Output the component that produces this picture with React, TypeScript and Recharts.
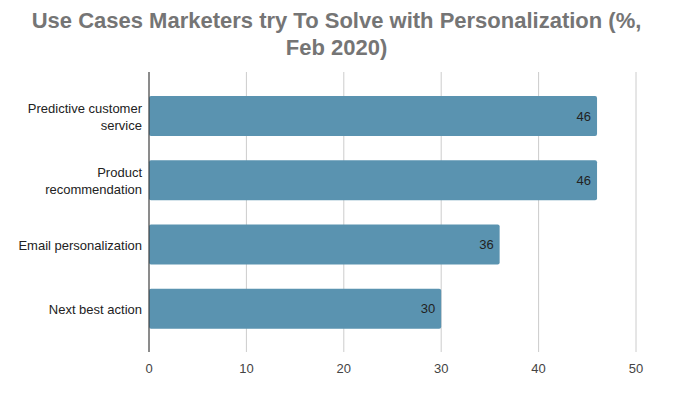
import { BarChart, Bar, XAxis, YAxis, CartesianGrid, LabelList } from 'recharts';

const categories = [
  'Predictive customer service',
  'Product recommendation',
  'Email personalization',
  'Next best action',
];
// how each category label breaks onto lines, as in the source chart
const tickLines = [
  ['Predictive customer', 'service'],
  ['Product', 'recommendation'],
  ['Email personalization'],
  ['Next best action'],
];
const shares = [46, 46, 36, 30];
const xTicks = [0, 10, 20, 30, 40, 50];

const data = categories.map((name, i) => ({ name, value: shares[i] }));

const FONT = 'Arial, "Liberation Sans", sans-serif';

const CategoryTick = (props: any) => {
  const { x, y, payload } = props;
  const idx = categories.indexOf(payload.value);
  const lines = tickLines[idx] ?? [payload.value];
  const lh = 17;
  const start = y - ((lines.length - 1) * lh) / 2;
  return (
    <text
      x={x + 1}
      y={start}
      textAnchor="end"
      dominantBaseline="central"
      fontSize={13}
      fontFamily={FONT}
      fill="#222"
    >
      {lines.map((ln: string, i: number) => (
        <tspan key={i} x={x + 1} y={start + i * lh}>
          {ln}
        </tspan>
      ))}
    </text>
  );
};

export default function App() {
  return (
    <div style={{ position: 'absolute', left: 0, top: 0, width: 673, height: 395, background: '#fff' }}>
      <div
        style={{
          position: 'absolute',
          left: 0,
          top: 7,
          width: 673,
          textAlign: 'center',
          fontFamily: FONT,
          fontWeight: 'bold',
          fontSize: 22,
          lineHeight: '27px',
          color: '#757575',
        }}
      >
        Use Cases Marketers try To Solve with Personalization (%,
        <br />
        Feb 2020)
      </div>
      <BarChart
        width={673}
        height={395}
        data={data}
        layout="vertical"
        margin={{ top: 72, right: 37, bottom: 13, left: 9 }}
        barSize={40}
      >
        <CartesianGrid horizontal={false} stroke="#cccccc" />
        <XAxis
          type="number"
          domain={[0, 50]}
          ticks={xTicks}
          axisLine={false}
          tickLine={false}
          height={30}
          tick={{ fontSize: 13, fontFamily: FONT, fill: '#444' }}
          tickMargin={6}
        />
        <YAxis
          type="category"
          dataKey="name"
          width={140}
          padding={{ top: 12, bottom: 11 }}
          axisLine={{ stroke: '#333' }}
          tickLine={false}
          tick={<CategoryTick />}
        />
        <Bar dataKey="value" fill="#5a93b0" radius={2} isAnimationActive={false}>
          <LabelList
            dataKey="value"
            position="insideRight"
            offset={6}
            style={{ fontSize: 13, fontFamily: FONT, fill: '#222' }}
          />
        </Bar>
      </BarChart>
    </div>
  );
}
